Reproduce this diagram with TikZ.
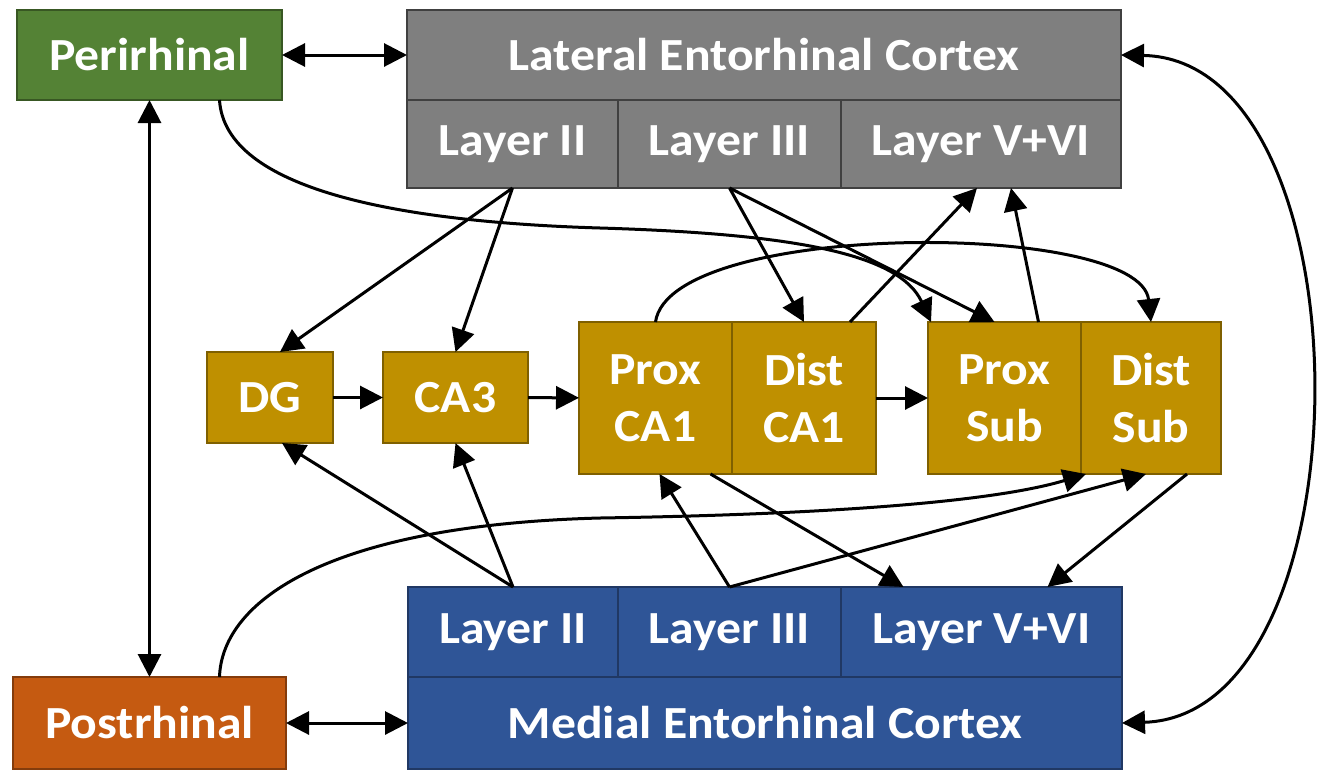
\documentclass[tikz,border=0pt]{standalone}
\usepackage{fontspec}
\setmainfont{Carlito}[FakeStretch=1.08]
\usetikzlibrary{arrows.meta,calc}
\definecolor{cgreen}{HTML}{548235}
\definecolor{cgreenb}{HTML}{385723}
\definecolor{cgrey}{HTML}{7F7F7F}
\definecolor{cgreyb}{HTML}{404040}
\definecolor{cgold}{HTML}{BF9000}
\definecolor{cgoldb}{HTML}{7F6000}
\definecolor{cblue}{HTML}{2F5597}
\definecolor{cblueb}{HTML}{203864}
\definecolor{corange}{HTML}{C55A11}
\definecolor{corangeb}{HTML}{843C0C}
\tikzset{
  box/.style={draw, line width=1.5pt, inner sep=0pt, outer sep=0pt, text=white,
    font=\bfseries\fontsize{46}{57}\selectfont, align=center},
  greenbox/.style={box, fill=cgreen, draw=cgreenb},
  greybox/.style={box, fill=cgrey, draw=cgreyb},
  goldbox/.style={box, fill=cgold, draw=cgoldb},
  bluebox/.style={box, fill=cblue, draw=cblueb},
  orangebox/.style={box, fill=corange, draw=corangeb},
  tip/.tip={Triangle[length=23pt,width=23pt]},
  arr/.style={line width=3pt, -tip},
  biarr/.style={line width=3pt, tip-tip},
}
\begin{document}
\begin{tikzpicture}[x=1pt,y=-1pt]
\useasboundingbox (0,0) rectangle (1320,769);
% top
\node[greenbox, minimum width=265pt, minimum height=90pt] (peri) at (149.5,55) {Perirhinal};
\node[greybox, minimum width=714pt, minimum height=90pt] (lec) at (764,55) {Lateral Entorhinal Cortex};
\node[greybox, minimum width=211pt, minimum height=88pt] (lec2) at (512.5,144) {Layer II};
\node[greybox, minimum width=223pt, minimum height=88pt] (lec3) at (729.5,144) {Layer III};
\node[greybox, minimum width=280pt, minimum height=88pt] (lec5) at (981,144) {Layer V+VI};
% middle
\node[goldbox, minimum width=126pt, minimum height=91pt] (dg) at (270,397.5) {DG};
\node[goldbox, minimum width=145pt, minimum height=91pt] (ca3) at (455.5,397.5) {CA3};
\node[goldbox, minimum width=153pt, minimum height=152pt] (pca1) at (655.5,398) {Prox\\CA1};
\node[goldbox, minimum width=144pt, minimum height=152pt] (dca1) at (804,398) {Dist\\CA1};
\node[goldbox, minimum width=153pt, minimum height=152pt] (psub) at (1004.5,398) {Prox\\Sub};
\node[goldbox, minimum width=140pt, minimum height=152pt] (dsub) at (1151,398) {Dist\\Sub};
% bottom
\node[bluebox, minimum width=210pt, minimum height=90pt] (mec2) at (513,632) {Layer II};
\node[bluebox, minimum width=223pt, minimum height=90pt] (mec3) at (729.5,632) {Layer III};
\node[bluebox, minimum width=281pt, minimum height=90pt] (mec5) at (981.5,632) {Layer V+VI};
\node[bluebox, minimum width=714pt, minimum height=92pt] (mec) at (765,723) {Medial Entorhinal Cortex};
\node[orangebox, minimum width=273pt, minimum height=92pt] (post) at (149.5,723) {Postrhinal};

% bidirectional
\draw[biarr] (peri) -- (lec);
\draw[biarr] (peri.south) -- (post.north);
\draw[biarr] (post) -- (mec);
\draw[biarr] (lec.east) .. controls (1372,60) and (1372,715) .. (mec.east);

% LEC outputs
\draw[arr] (lec2.south) -- ($(dg.north)+(10,0)$);
\draw[arr] (lec2.south) -- (ca3.north);
\draw[arr] (lec3.south) -- (dca1.north);
\draw[arr] (lec3.south) -- ($(psub.north)+(-10,0)$);
\draw[arr] ($(dca1.north)+(46,0)$) -- ($(lec5.south)+(-4,0)$);
\draw[arr] ($(psub.north)+(34,0)$) -- ($(lec5.south)+(30,0)$);

% perirhinal curve
\draw[arr] ($(peri.south)+(70,0)$) .. controls (225,190) and (400,222) .. (600,228)
   .. controls (800,234) and (900,255) .. ($(psub.north west)+(3,0)$);

% CA1 arch
\draw[arr] (pca1.north) .. controls (670,220) and (1140,220) .. (dsub.north);

% chain
\draw[arr] (dg) -- (ca3);
\draw[arr] (ca3) -- (pca1);
\draw[arr] (dca1) -- (psub);

% MEC outputs
\draw[arr] (mec2.north) -- ($(dg.south)+(12,0)$);
\draw[arr] (mec2.north) -- (ca3.south);
\draw[arr] (mec3.north) -- ($(pca1.south)+(4,0)$);
\draw[arr] (mec3.north) -- ($(dsub.south)+(-5,0)$);
\draw[arr] ($(pca1.south)+(55,0)$) -- ($(mec5.north)+(-78,0)$);
\draw[arr] ($(dsub.south)+(36,0)$) -- ($(mec5.north)+(66,0)$);

% postrhinal curve
\draw[arr] ($(post.north)+(70,0)$) .. controls (222,600) and (330,525) .. (600,518)
   .. controls (850,514) and (1000,500) .. ($(dsub.south west)+(5,0)$);
\end{tikzpicture}
\end{document}
